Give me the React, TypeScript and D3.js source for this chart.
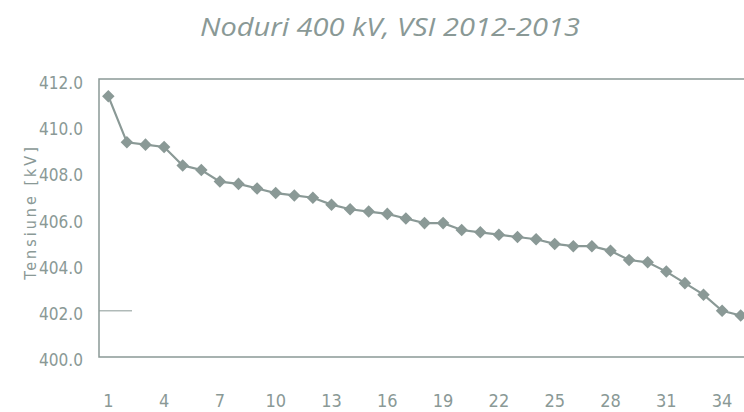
import React from "react";
import * as d3 from "d3";

const categories: number[] = Array.from({ length: 35 }, (_, i) => i + 1);
const values: number[] = [
  411.3, 409.3, 409.2, 409.1, 408.3, 408.1, 407.6, 407.5, 407.3, 407.1,
  407.0, 406.9, 406.6, 406.4, 406.3, 406.2, 406.0, 405.8, 405.8, 405.5,
  405.4, 405.3, 405.2, 405.1, 404.9, 404.8, 404.8, 404.6, 404.2, 404.1,
  403.7, 403.2, 402.7, 402.0, 401.8,
];
const yTicks: number[] = [400, 402, 404, 406, 408, 410, 412];
const xTickLabels: number[] = [1, 4, 7, 10, 13, 16, 19, 22, 25, 28, 31, 34];
const title = "Noduri 400 kV, VSI 2012-2013";
const yTitle = "Tensiune [kV]";

const W = 744;
const H = 412;
const left = 99;
const right = 750;
const top = 80;
const bottom = 357;
const color = "#8a9996";
const narrow = "'Liberation Sans Narrow', 'DejaVu Sans Condensed', 'Open Sans', sans-serif";

export default function App() {
  const x = d3.scaleBand<number>().domain(categories).range([left, right]);
  const y = d3.scaleLinear().domain([400, 412]).range([bottom, top]);
  const cx = (c: number) => (x(c) as number) + x.bandwidth() / 2;
  const line = d3
    .line<number>()
    .x((_, i) => cx(categories[i]))
    .y((v) => y(v));
  const diamond = d3.symbol().type(d3.symbolDiamond2).size(100)() as string;

  return (
    <svg width={W} height={H} style={{ position: "absolute", left: 0, top: 0, background: "#fff" }}>
      <text
        x={390}
        y={36}
        textAnchor="middle"
        fill={color}
        fontFamily="'Open Sans', sans-serif"
        fontStyle="italic"
        fontSize={25}
        textLength={380}
        lengthAdjust="spacingAndGlyphs"
      >
        {title}
      </text>
      <rect
        x={left}
        y={top - 1}
        width={right - left}
        height={bottom - top + 1}
        fill="none"
        stroke={color}
        strokeWidth={1.5}
      />
      <line x1={left} x2={132} y1={y(402)} y2={y(402)} stroke={color} strokeWidth={1} />
      {yTicks.map((t) => (
        <text
          key={t}
          x={83}
          y={y(t) + 4}
          textAnchor="end"
          dominantBaseline="middle"
          fill={color}
          fontFamily={narrow}
          fontSize={18}
          textLength={44}
          lengthAdjust="spacingAndGlyphs"
        >
          {t.toFixed(1)}
        </text>
      ))}
      {xTickLabels.map((t) => (
        <text
          key={t}
          x={cx(t)}
          y={402}
          textAnchor="middle"
          dominantBaseline="middle"
          fill={color}
          fontFamily={narrow}
          fontSize={18}
        >
          {t}
        </text>
      ))}
      <text
        transform={`translate(31, 212) rotate(-90)`}
        textAnchor="middle"
        dominantBaseline="middle"
        fill={color}
        fontFamily={narrow}
        fontSize={16}
        letterSpacing={3}
      >
        {yTitle}
      </text>
      <path d={line(values) as string} fill="none" stroke={color} strokeWidth={2.2} />
      {values.map((v, i) => (
        <path key={i} d={diamond} transform={`translate(${cx(categories[i])},${y(v)})`} fill={color} />
      ))}
    </svg>
  );
}
